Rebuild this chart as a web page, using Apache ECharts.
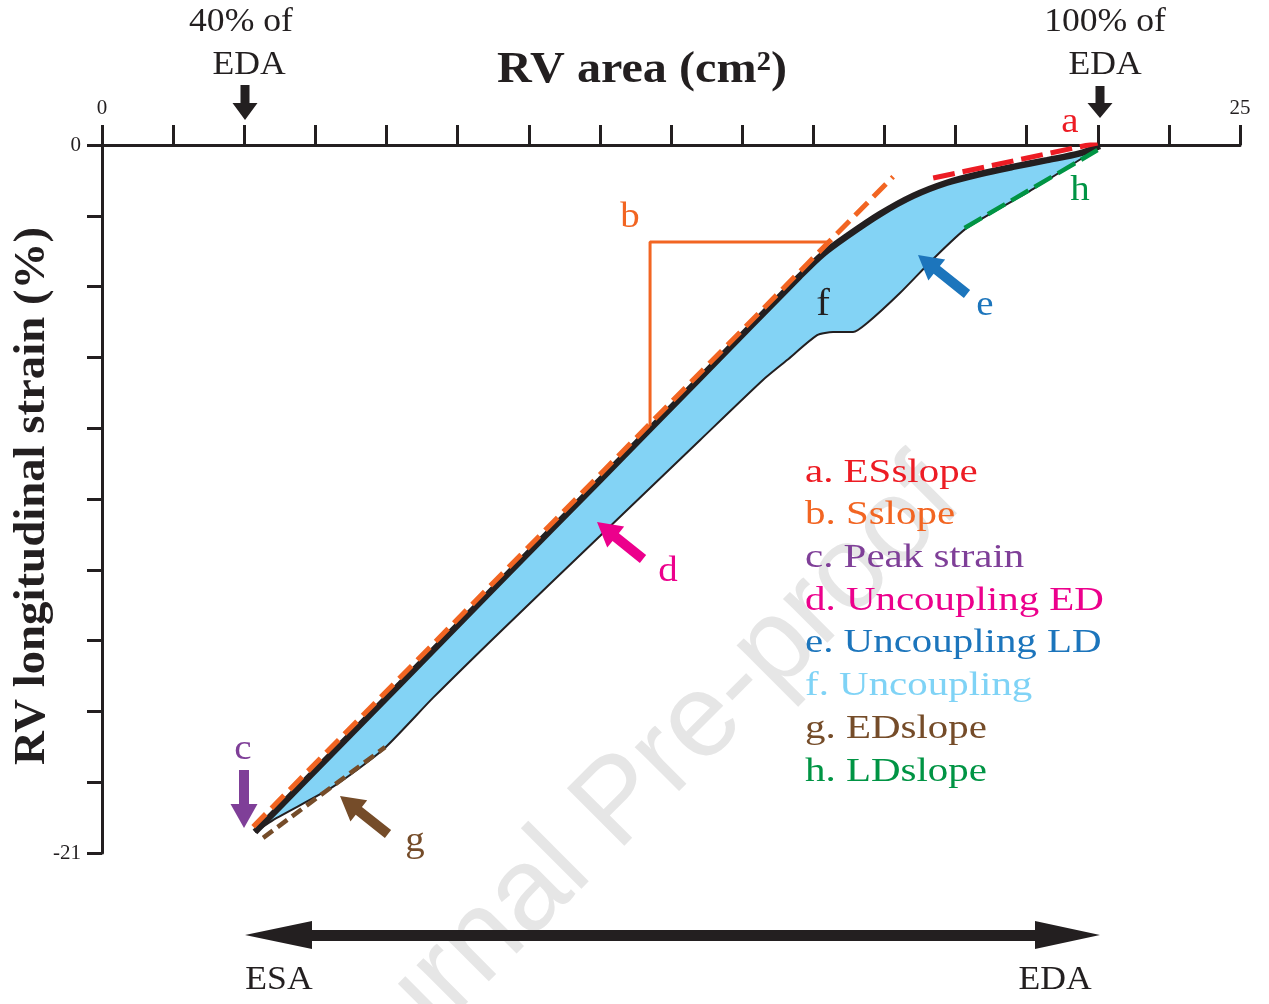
<!DOCTYPE html>
<html>
<head>
<meta charset="utf-8">
<script src="https://cdn.jsdelivr.net/npm/echarts@6/dist/echarts.min.js"></script>
<style>
  html, body { margin: 0; padding: 0; background: #fff; }
  #chart { width: 1269px; height: 1004px; }
</style>
</head>
<body>
<div id="chart"></div>
<script>
// upper (thick) strain-area loop branch
var upperX = [3.36, 4.35, 6.55, 8.74, 10.94, 13.14, 15.33, 15.84, 16.37, 17.09, 17.82, 18.56, 19.29, 20.01, 20.76, 21.48, 21.92];
var upperY = [-20.38, -19.01, -15.99, -12.96, -9.94, -6.91, -3.89, -3.23, -2.70, -2.05, -1.51, -1.12, -0.86, -0.65, -0.45, -0.25, -0.03];
// lower (thin) branch
var lowerX = [3.36, 3.84, 5.07, 6.17, 7.27, 8.74, 10.94, 13.14, 14.52, 15.05, 15.71, 16.06, 16.50, 16.81, 17.53, 18.26, 19.00, 20.45, 21.92];
var lowerY = [-20.38, -19.96, -19.04, -17.94, -16.40, -14.45, -11.60, -8.75, -6.97, -6.38, -5.64, -5.55, -5.55, -5.28, -4.39, -3.38, -2.46, -1.31, -0.06];
// slopes
var esSlopeX = [18.26, 21.87], esSlopeY = [-0.98, 0.06];
var sSlopeX = [3.32, 17.38], sSlopeY = [-20.22, -0.94];
var edSlopeX = [3.54, 6.22], edSlopeY = [-20.55, -17.86];
var ldSlopeX = [18.95, 21.87], ldSlopeY = [-2.46, -0.15];
var triX = [12.04, 12.04, 15.99], triY = [-8.33, -2.88, -2.88];

var legendItems = ['a. ESslope', 'b. Sslope', 'c. Peak strain', 'd. Uncoupling ED',
  'e. Uncoupling LD', 'f. Uncoupling', 'g. EDslope', 'h. LDslope'];
var legendColors = ['#ed1c24', '#f26522', '#7f3f98', '#ec008c', '#1c75bc', '#7fd3f6', '#754c29', '#009444'];

var INK = '#231f20';
var SERIF = '"Liberation Serif", "DejaVu Serif", serif';

function zip(xs, ys) {
  return xs.map(function (x, i) { return [x, ys[i]]; });
}

function lineSeries(xs, ys, color, width, dash, z) {
  return {
    type: 'line', data: zip(xs, ys), symbol: 'none', silent: true, z: z || 3,
    lineStyle: { color: color, width: width, type: dash || 'solid', cap: 'butt' }
  };
}

function blockArrow(tip, tail, shaftW, headW, headL, color) {
  var dx = tip[0] - tail[0], dy = tip[1] - tail[1];
  var len = Math.hypot(dx, dy), ux = dx / len, uy = dy / len, nx = -uy, ny = ux;
  var bx = tip[0] - ux * headL, by = tip[1] - uy * headL;
  var s = shaftW / 2, h = headW / 2;
  return {
    type: 'polygon', z: 100,
    shape: { points: [
      [tail[0] + nx * s, tail[1] + ny * s], [bx + nx * s, by + ny * s], [bx + nx * h, by + ny * h],
      tip, [bx - nx * h, by - ny * h], [bx - nx * s, by - ny * s], [tail[0] - nx * s, tail[1] - ny * s]
    ] },
    style: { fill: color }
  };
}

// serif text, stretched a little to match the wide face of the original
function label(text, x, y, color, size, weight, sx) {
  return {
    type: 'text', x: x, y: y, z: 100, scaleX: sx || 1.08,
    style: {
      text: text, fill: color, font: (weight || '') + ' ' + size + 'px ' + SERIF,
      textAlign: 'center', textVerticalAlign: 'middle'
    }
  };
}

var graphics = [
  {
    type: 'text', x: 620, y: 804, rotation: 0.785, z: 0,
    style: {
      text: 'Journal Pre-proof', fill: '#e6e6e6', font: '118px "Liberation Sans", Arial, sans-serif',
      textAlign: 'center', textVerticalAlign: 'middle'
    }
  },
  label('RV area (cm²)', 642, 70, INK, 45, 'bold', 1.07),
  {
    type: 'text', x: 32, y: 496, rotation: Math.PI / 2, z: 100, scaleX: 1.04,
    style: {
      text: 'RV longitudinal strain (%)', fill: INK, font: 'bold 45px ' + SERIF,
      textAlign: 'center', textVerticalAlign: 'middle'
    }
  },
  label('40% of', 241, 22, INK, 33),
  label('EDA', 249, 65, INK, 33),
  label('100% of', 1105, 22, INK, 33),
  label('EDA', 1105, 65, INK, 33),
  label('ESA', 279, 980, INK, 33),
  label('EDA', 1055, 980, INK, 33),
  label('a', 1070, 123, '#ed1c24', 36),
  label('b', 630, 218, '#f26522', 36),
  label('c', 243, 750, '#7f3f98', 36),
  label('d', 668, 572, '#ec008c', 36),
  label('e', 985, 306, '#1c75bc', 36),
  label('f', 823, 305, INK, 38),
  label('g', 415, 842, '#754c29', 36),
  label('h', 1080, 191, '#009444', 36),
  blockArrow([245, 120], [245, 85], 9, 25, 17, INK),
  blockArrow([1100, 118], [1100, 86], 9, 25, 15, INK),
  blockArrow([244, 828], [244, 770], 10, 27, 24, '#7f3f98'),
  blockArrow([597, 522], [643, 559], 10, 27, 24, '#ec008c'),
  blockArrow([918, 255], [967, 294], 10, 27, 24, '#1c75bc'),
  blockArrow([340, 796], [388, 834], 10, 27, 24, '#754c29'),
  {
    type: 'polygon', z: 100,
    shape: { points: [[245, 935], [312, 921], [312, 930], [1035, 930], [1035, 921], [1100, 935],
      [1035, 949], [1035, 941], [312, 941], [312, 949]] },
    style: { fill: INK }
  }
];

legendItems.forEach(function (t, i) {
  graphics.push({
    type: 'text', x: 805, y: 473 + i * 42.7, z: 100, scaleX: 1.24,
    style: { text: t, fill: legendColors[i], font: '33px ' + SERIF, textAlign: 'left', textVerticalAlign: 'middle' }
  });
});

var bandPoly = zip(upperX, upperY).concat(zip(lowerX, lowerY).reverse());

var chart = echarts.init(document.getElementById('chart'), null, { renderer: 'canvas' });
chart.setOption({
  animation: false,
  backgroundColor: '#fff',
  grid: { left: 102, right: 29, top: 145, bottom: 151, containLabel: false },
  xAxis: {
    type: 'value', position: 'top', min: 0, max: 25, interval: 1.5625,
    axisLine: { show: true, lineStyle: { color: INK, width: 3 } },
    axisTick: { show: true, length: 20, lineStyle: { color: INK, width: 3 } },
    splitLine: { show: false },
    axisLabel: {
      margin: 26, color: INK, fontFamily: SERIF, fontSize: 21,
      formatter: function (v) { return (v === 0 || v === 25) ? String(v) : ''; }
    }
  },
  yAxis: {
    type: 'value', min: -21, max: 0, interval: 2.1,
    axisLine: { show: true, lineStyle: { color: INK, width: 3 } },
    axisTick: { show: true, length: 15, lineStyle: { color: INK, width: 3 } },
    splitLine: { show: false },
    axisLabel: {
      margin: 21, color: INK, fontFamily: SERIF, fontSize: 21,
      formatter: function (v) {
        if (Math.abs(v) < 1e-6) return '0';
        if (Math.abs(v + 21) < 1e-6) return '-21';
        return '';
      }
    }
  },
  graphic: graphics,
  series: [
    {
      type: 'custom', silent: true, z: 2, data: [[0, 0]],
      renderItem: function (params, api) {
        return {
          type: 'polygon',
          shape: { points: bandPoly.map(function (p) { return api.coord(p); }) },
          style: { fill: '#83d3f5' }
        };
      }
    },
    Object.assign(lineSeries(lowerX, lowerY, INK, 2), { smooth: 0.2 }),
    Object.assign(lineSeries(upperX, upperY, INK, 6.5), { smooth: 0.3 }),
    lineSeries(triX, triY, '#f26522', 3),
    lineSeries(sSlopeX, sSlopeY, '#f26522', 5, [18, 8], 5),
    lineSeries(esSlopeX, esSlopeY, '#ed1c24', 5, [22, 8], 5),
    lineSeries(ldSlopeX, ldSlopeY, '#009444', 4.5, [20, 7], 5),
    lineSeries(edSlopeX, edSlopeY, '#754c29', 4.5, [12, 6], 5)
  ]
});
</script>
</body>
</html>
